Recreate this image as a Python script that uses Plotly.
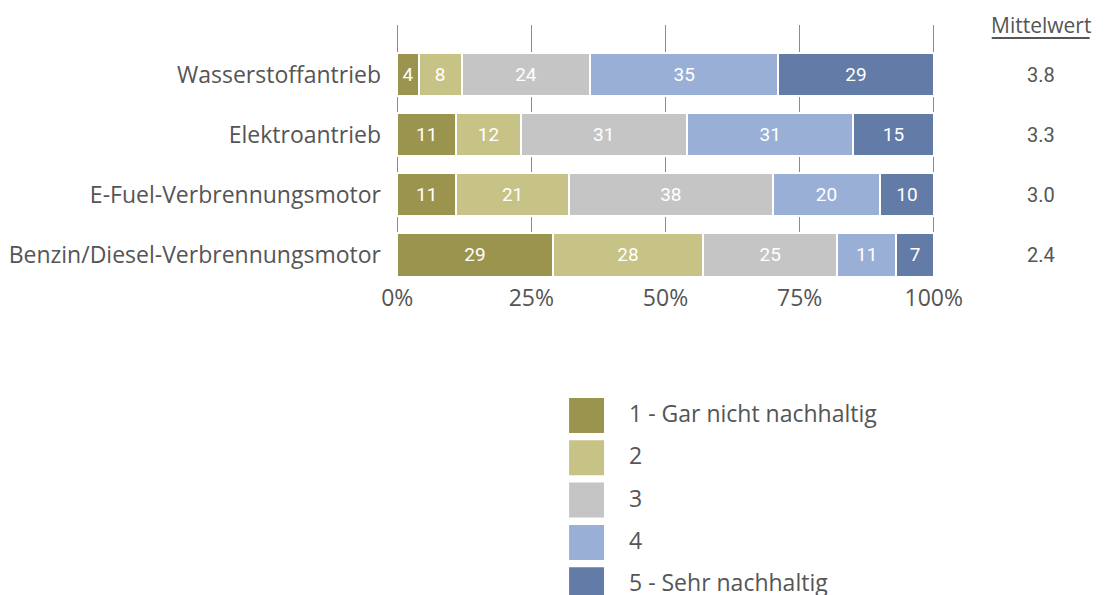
import plotly.graph_objects as go

categories = ["Wasserstoffantrieb", "Elektroantrieb", "E-Fuel-Verbrennungsmotor",
              "Benzin/Diesel-Verbrennungsmotor"]
series_names = ["1 - Gar nicht nachhaltig", "2", "3", "4", "5 - Sehr nachhaltig"]
series_values = [
    [4, 11, 11, 29],
    [8, 12, 21, 28],
    [24, 31, 38, 25],
    [35, 31, 20, 11],
    [29, 15, 10, 7],
]
colors = ["#9B944E", "#C7C286", "#C5C5C5", "#9AAFD5", "#637BA7"]
means = ["3.8", "3.3", "3.0", "2.4"]
tick_vals = [0, 25, 50, 75, 100]
tick_text = ["0%", "25%", "50%", "75%", "100%"]

FONT = "Open Sans"
NUMFONT = "Roboto"
TXT = "#555555"
W, H = 1106, 595
OFF = 8  # page body margin
PAD = 0.6  # x-range padding so edge gridlines are drawn
x0_page, x100_page = 397, 934
top_page, bot_page = 25, 278
ppu = (x100_page - x0_page) / 100.0
L = x0_page - OFF - PAD * ppu
PW = (100 + 2 * PAD) * ppu
R = W - L - PW
T = top_page - OFF
B = H - (bot_page - OFF)
PH = H - T - B


def px_to_paper_x(px):
    return (px - OFF - L) / PW


def px_to_paper_y(py):
    return (H - B - (py - OFF)) / PH


fig = go.Figure()
ypos = list(range(len(categories)))
for name, vals, col in zip(series_names, series_values, colors):
    fig.add_trace(go.Bar(
        y=ypos, x=vals, orientation="h", name=name,
        marker=dict(color=col, line=dict(color="white", width=2)),
        text=[str(v) for v in vals], textposition="inside",
        insidetextanchor="middle", textangle=0,
        textfont=dict(color="white", size=19, family=NUMFONT),
        showlegend=False, hoverinfo="skip",
    ))

annotations = []
annotations.append(dict(xref="paper", yref="paper", x=px_to_paper_x(1041),
                        y=px_to_paper_y(25), text="Mittelwert", showarrow=False,
                        font=dict(size=21, color=TXT, family=FONT),
                        xanchor="center", yanchor="middle"))
for i, m in enumerate(means):
    annotations.append(dict(xref="paper", yref="y", x=px_to_paper_x(1041), y=i,
                            text=m, showarrow=False,
                            font=dict(size=20, color=TXT, family=NUMFONT),
                            xanchor="center", yanchor="middle"))

shapes = [dict(type="line", xref="paper", yref="paper",
               x0=px_to_paper_x(992), x1=px_to_paper_x(1090),
               y0=px_to_paper_y(38), y1=px_to_paper_y(38),
               line=dict(color=TXT, width=2))]

for k, (name, col) in enumerate(zip(series_names, colors)):
    top = 398 + k * 42.3
    shapes.append(dict(type="rect", xref="paper", yref="paper",
                       x0=px_to_paper_x(569), x1=px_to_paper_x(604),
                       y0=px_to_paper_y(top), y1=px_to_paper_y(top + 35),
                       fillcolor=col, line=dict(width=0)))
    annotations.append(dict(xref="paper", yref="paper", x=px_to_paper_x(627),
                            y=px_to_paper_y(top + 15), text=name, showarrow=False,
                            font=dict(size=23, color=TXT, family=FONT),
                            xanchor="left", yanchor="middle"))

fig.update_layout(
    barmode="stack", bargap=0.27,
    width=W, height=H,
    margin=dict(l=L, r=R, t=T, b=B, autoexpand=False),
    paper_bgcolor="white", plot_bgcolor="white",
    font=dict(family=FONT, color=TXT, size=23),
    xaxis=dict(range=[-PAD, 100 + PAD], tickvals=tick_vals, ticktext=tick_text,
               showgrid=True, gridcolor="#8a8a8a", gridwidth=1.2,
               zeroline=False, showline=False, ticks="",
               tickfont=dict(size=23, color=TXT, family=FONT), ticklabelstandoff=4),
    yaxis=dict(range=[3.39, -0.825], tickvals=ypos, ticktext=categories,
               showgrid=False, zeroline=False, showline=False, ticks="",
               tickfont=dict(size=23, color=TXT, family=FONT), ticklabelstandoff=12),
    annotations=annotations, shapes=shapes,
    showlegend=False,
)

fig.write_html("out.html")
